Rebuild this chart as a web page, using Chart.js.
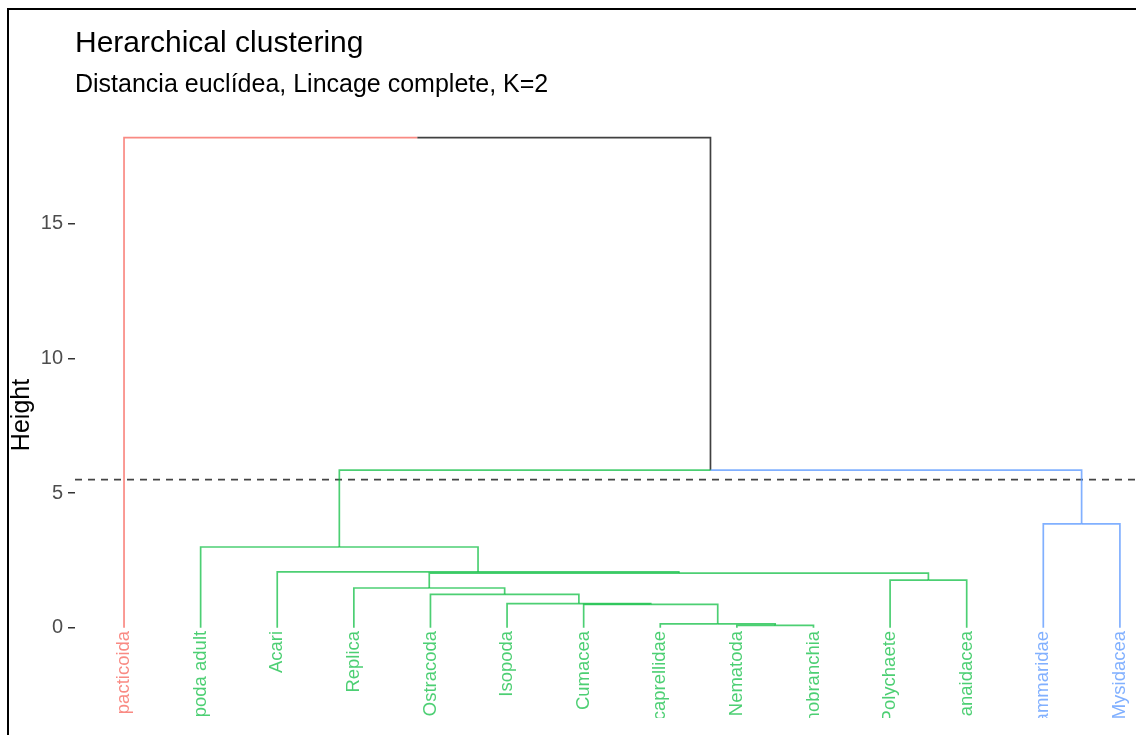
<!DOCTYPE html>
<html>
<head>
<meta charset="utf-8">
<script src="https://cdn.jsdelivr.net/npm/chart.js@4"></script>
<style>
  html, body { margin: 0; padding: 0; background: #fff; }
  #wrap { position: relative; width: 1136px; height: 735px; overflow: hidden; }
  #frame { position: absolute; left: 7px; top: 8px; right: -10px; bottom: -10px;
           border-left: 2px solid #000; border-top: 2px solid #000; pointer-events: none; }
</style>
</head>
<body>
<div id="wrap">
  <canvas id="dend" width="1136" height="735"></canvas>
  <div id="frame"></div>
</div>
<script>
// leaves, left to right, as they show in the picture (cut off at the bottom)
const leafLabels = ['pacticoida', 'ipoda adult', 'Acari', 'Replica', 'Ostracoda', 'Isopoda',
  'Cumacea', 'caprellidae', 'Nematoda', 'nobranchia', 'Polychaete', 'anaidacea',
  'ammaridae', 'Mysidacea'];
const leafCluster = [0, 1, 1, 1, 1, 1, 1, 1, 1, 1, 1, 1, 2, 2];
const clusterColors = ['rgba(248,118,109,0.85)', 'rgba(0,186,56,0.7)', 'rgba(97,156,255,0.8)'];
const mixedColor = 'rgba(0,0,0,0.75)';

// hclust-style merges: negative = leaf number, positive = earlier merge number
const mergeLeft   = [-9, -8, -7, -6, -5, -4, -11, 6, -3, -2, -13, 10, -1];
const mergeRight  = [-10, 1, 2, 3, 4, 5, -12, 7, 8, 9, -14, 11, 12];
const mergeHeight = [0.09, 0.15, 0.87, 0.90, 1.24, 1.48, 1.77, 2.03, 2.08, 3.00, 3.86, 5.85, 18.19];

const cutHeight = 5.5;
const yTicks = [0, 5, 10, 15];

const FONT = "'Liberation Sans', Arial, sans-serif";
const xMin = 0.36, xMax = 14.21;

// work out node positions and cluster colour of every node
function nodeInfo(id) {
  if (id < 0) {
    const i = -id - 1;
    return { x: i + 1, h: 0, clusters: new Set([leafCluster[i]]) };
  }
  const l = nodeInfo(mergeLeft[id - 1]);
  const r = nodeInfo(mergeRight[id - 1]);
  return { x: (l.x + r.x) / 2, h: mergeHeight[id - 1], clusters: new Set([...l.clusters, ...r.clusters]) };
}

const datasets = [];
for (let m = 1; m <= mergeHeight.length; m++) {
  const node = nodeInfo(m);
  [mergeLeft[m - 1], mergeRight[m - 1]].forEach(c => {
    const child = nodeInfo(c);
    const color = child.clusters.size === 1 ? clusterColors[[...child.clusters][0]] : mixedColor;
    datasets.push({
      data: [{ x: child.x, y: child.h }, { x: child.x, y: node.h }, { x: node.x, y: node.h }],
      showLine: true,
      borderColor: color,
      borderWidth: 1.7,
      pointRadius: 0,
      tension: 0,
      fill: false
    });
  });
}

datasets.push({
  data: [{ x: xMin, y: cutHeight }, { x: xMax, y: cutHeight }],
  showLine: true,
  borderColor: '#444',
  borderWidth: 1.8,
  borderDash: [7, 6],
  pointRadius: 0,
  fill: false
});

// leaf labels, rotated, hanging below height 0
const leafLabelPlugin = {
  id: 'leafLabels',
  afterDatasetsDraw(chart) {
    const { ctx, chartArea, scales } = chart;
    ctx.save();
    ctx.beginPath();
    ctx.rect(chartArea.left, chartArea.top, chartArea.right - chartArea.left, chartArea.bottom - chartArea.top);
    ctx.clip();
    ctx.font = '18.5px ' + FONT;
    ctx.textAlign = 'right';
    ctx.textBaseline = 'middle';
    leafLabels.forEach((lab, i) => {
      ctx.save();
      ctx.translate(scales.x.getPixelForValue(i + 1), scales.y.getPixelForValue(0) + 3);
      ctx.rotate(-Math.PI / 2);
      ctx.fillStyle = clusterColors[leafCluster[i]];
      ctx.fillText(lab, 0, 0);
      ctx.restore();
    });
    ctx.restore();
  }
};

new Chart(document.getElementById('dend'), {
  type: 'scatter',
  data: { datasets },
  plugins: [leafLabelPlugin],
  options: {
    responsive: false,
    animation: false,
    devicePixelRatio: 1,
    layout: { padding: { left: 0, right: 0, top: 0, bottom: 16 } },
    plugins: {
      legend: { display: false },
      tooltip: { enabled: false },
      title: {
        display: true, text: 'Herarchical clustering', align: 'start', fullSize: false,
        color: '#000', font: { family: FONT, size: 30, weight: 'normal' },
        padding: { top: 26, bottom: 4 }
      },
      subtitle: {
        display: true, text: 'Distancia euclídea, Lincage complete, K=2', align: 'start', fullSize: false,
        color: '#000', font: { family: FONT, size: 25 },
        padding: { top: 4, bottom: 12 }
      }
    },
    scales: {
      x: { type: 'linear', display: false, min: xMin, max: xMax },
      y: {
        type: 'linear', min: -3.344, max: 19.14,
        afterBuildTicks: s => { s.ticks = yTicks.map(v => ({ value: v })); },
        afterFit: s => { s.width = 75; },
        border: { display: false },
        grid: { drawOnChartArea: false, drawTicks: true, tickLength: 7, color: '#333', lineWidth: 1.5 },
        ticks: { color: '#4D4D4D', font: { family: FONT, size: 20 }, padding: 5 },
        title: { display: true, text: 'Height', color: '#000', font: { family: FONT, size: 25 }, padding: { top: 7, bottom: 0 } }
      }
    }
  }
});
</script>
</body>
</html>
